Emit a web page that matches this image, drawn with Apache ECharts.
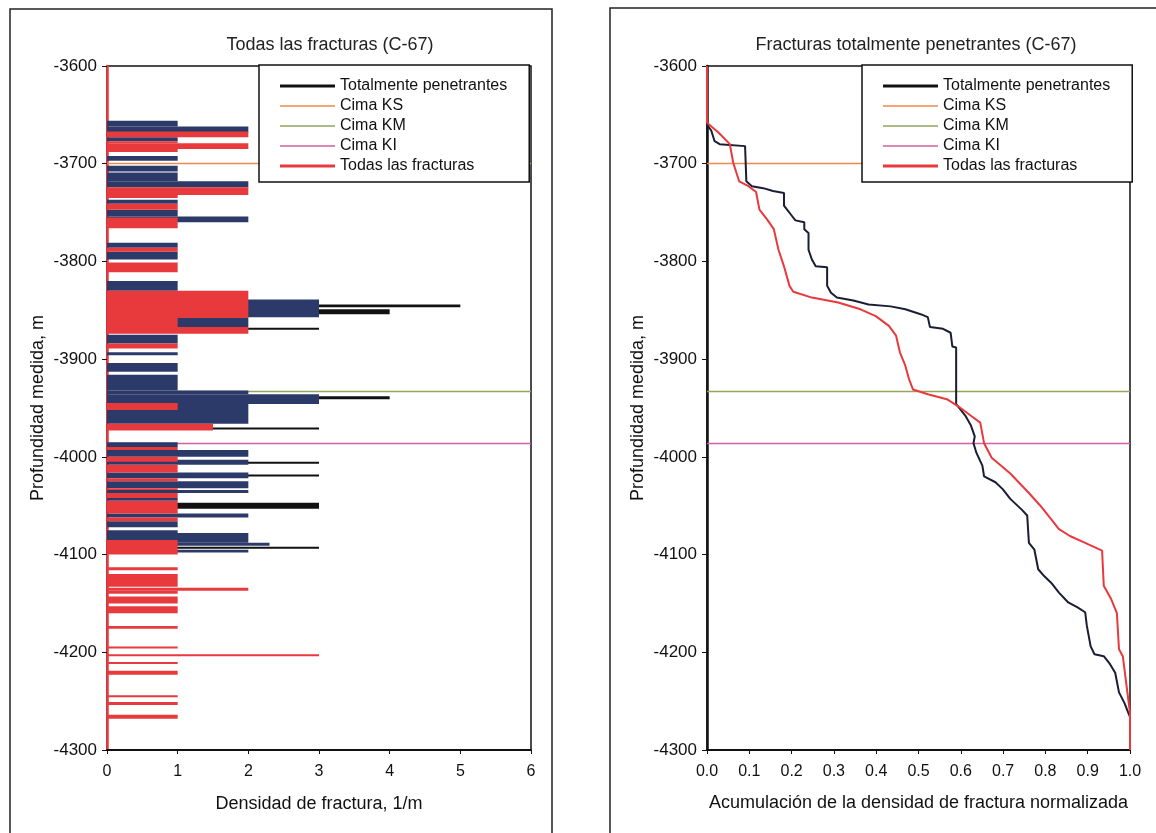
<!DOCTYPE html>
<html>
<head>
<meta charset="utf-8">
<title>Densidad de fractura C-67</title>
<script src="https://cdn.jsdelivr.net/npm/echarts@6/dist/echarts.min.js"></script>
<style>
  html, body { margin: 0; background: #fff; }
  #chart { width: 1156px; height: 833px; }
</style>
</head>
<body>
<div id="chart"></div>
<script>
// profundidad (m) de los ejes
const depthMax = -3600;
const depthMin = -4300;
const depthStep = 100;

// cimas de formacion
const cimaKS = -3700;
const cimaKM = -3933;
const cimaKI = -3986;

// densidad de fractura por intervalo: [cima, base, densidad 1/m]
const penBars = [
  [-3656, -3662, 1], [-3662, -3668, 2], [-3673, -3677, 1], [-3692, -3697, 1],
  [-3702, -3708, 1], [-3709, -3718, 1], [-3718, -3724, 2], [-3737, -3741, 1],
  [-3747, -3754, 1], [-3754, -3760, 2], [-3781, -3786, 1], [-3790, -3798, 1],
  [-3820, -3830, 1], [-3844, -3847, 5], [-3849, -3854, 4], [-3839, -3857, 3],
  [-3857, -3867, 2], [-3868, -3870, 3], [-3875, -3884, 1], [-3893, -3896, 1],
  [-3904, -3913, 1], [-3916, -3932, 1], [-3938, -3941, 4], [-3932, -3936, 2],
  [-3936, -3946, 3], [-3946, -3966, 2], [-3970, -3972, 3], [-3985, -3990, 1],
  [-3993, -4000, 2], [-4005, -4007, 3], [-4003, -4008, 2], [-4018, -4020, 3],
  [-4016, -4022, 2], [-4025, -4032, 2], [-4034, -4037, 2], [-4042, -4045, 1],
  [-4047, -4053, 3], [-4058, -4062, 2], [-4066, -4072, 1], [-4075, -4078, 1],
  [-4078, -4088, 2], [-4092, -4094, 3], [-4088, -4091, 2.3], [-4095, -4098, 2]
];
const todasBars = [
  [-3667, -3673, 2], [-3677, -3679, 1], [-3679, -3685, 2], [-3685, -3688, 1],
  [-3724, -3732, 2], [-3732, -3735, 1], [-3741, -3747, 1], [-3755, -3766, 1],
  [-3786, -3790, 1], [-3801, -3811, 1], [-3830, -3858, 2], [-3858, -3867, 1],
  [-3867, -3874, 2], [-3884, -3889, 1], [-3945, -3952, 1], [-3966, -3973, 1.5],
  [-3990, -3993, 1], [-4000, -4005, 1], [-4008, -4016, 1], [-4022, -4025, 1],
  [-4032, -4034, 1], [-4037, -4042, 1], [-4045, -4058, 1], [-4062, -4066, 1],
  [-4085, -4100, 1], [-4113, -4116, 1], [-4120, -4133, 1], [-4134, -4137, 2],
  [-4137, -4140, 1], [-4143, -4150, 1], [-4153, -4160, 1], [-4173, -4176, 1],
  [-4194, -4196, 1], [-4202, -4204, 3], [-4210, -4212, 1], [-4219, -4223, 1],
  [-4244, -4246, 1], [-4251, -4254, 1], [-4264, -4268, 1]
];

// acumulacion normalizada
const penCumDepth = [-3660, -3666, -3677, -3680, -3682, -3718, -3723, -3725, -3728, -3730,
  -3743, -3753, -3758, -3760, -3767, -3771, -3788, -3798, -3805, -3806,
  -3825, -3832, -3837, -3840, -3844, -3846, -3849, -3854, -3857, -3867,
  -3869, -3873, -3887, -3888, -3946, -3951, -3958, -3968, -3979, -3986,
  -3996, -4009, -4020, -4026, -4033, -4043, -4054, -4060, -4088, -4095,
  -4115, -4122, -4129, -4139, -4149, -4154, -4159, -4173, -4194, -4202,
  -4204, -4211, -4221, -4241, -4252, -4262, -4266];
const penCumVal = [0.0, 0.01, 0.018, 0.03, 0.09, 0.093, 0.106, 0.133, 0.156, 0.182,
  0.182, 0.2, 0.209, 0.23, 0.23, 0.24, 0.24, 0.248, 0.257, 0.284,
  0.284, 0.293, 0.307, 0.346, 0.382, 0.434, 0.469, 0.505, 0.522, 0.527,
  0.558, 0.576, 0.580, 0.589, 0.589, 0.598, 0.611, 0.624, 0.633, 0.630,
  0.637, 0.651, 0.655, 0.682, 0.699, 0.717, 0.744, 0.757, 0.761, 0.774,
  0.783, 0.797, 0.814, 0.832, 0.854, 0.876, 0.894, 0.898, 0.907, 0.916,
  0.938, 0.951, 0.965, 0.974, 0.987, 0.996, 1.0];
const todasCumDepth = [-3600, -3658, -3668, -3680, -3699, -3718, -3723, -3729, -3747, -3757,
  -3767, -3788, -3805, -3825, -3831, -3837, -3842, -3849, -3856, -3866,
  -3876, -3893, -3907, -3921, -3931, -3936, -3941, -3948, -3958, -3965,
  -3986, -4001, -4017, -4037, -4050, -4064, -4074, -4081, -4088, -4096,
  -4132, -4146, -4160, -4197, -4204, -4235, -4262, -4300];
const todasCumVal = [0, 0, 0.027, 0.054, 0.062, 0.076, 0.098, 0.116, 0.124, 0.142,
  0.158, 0.169, 0.182, 0.195, 0.204, 0.248, 0.310, 0.363, 0.399, 0.430,
  0.447, 0.456, 0.469, 0.478, 0.487, 0.522, 0.567, 0.593, 0.624, 0.646,
  0.655, 0.673, 0.717, 0.761, 0.788, 0.814, 0.832, 0.858, 0.894, 0.934,
  0.938, 0.956, 0.969, 0.974, 0.983, 0.992, 1.0, 1.0];

const FONT = '"Liberation Sans", Arial, sans-serif';
const RED = '#e8393d';
const NAVY = '#2c3a6a';
const INK = '#111';
const colKS = '#f08a4b';
const colKM = '#93a55c';
const colKI = '#d062a3';

const THICK = 'path://M0,0h0.01v0.01h-0.01z M0,5.5H55V8.5H0z M0,14h0.01v-0.01h-0.01z';
const THIN = 'path://M0,0h0.01v0.01h-0.01z M0,6.3H55V7.7H0z M0,14h0.01v-0.01h-0.01z';

const legendItems = [
  { name: 'Totalmente penetrantes', icon: THICK, itemStyle: { color: INK, borderWidth: 0 } },
  { name: 'Cima KS', icon: THIN, itemStyle: { color: colKS, borderWidth: 0 } },
  { name: 'Cima KM', icon: THIN, itemStyle: { color: colKM, borderWidth: 0 } },
  { name: 'Cima KI', icon: THIN, itemStyle: { color: colKI, borderWidth: 0 } },
  { name: 'Todas las fracturas', icon: THICK, itemStyle: { color: RED, borderWidth: 0 } }
];

function zip(xs, ys) {
  return xs.map((x, i) => [x, ys[i]]);
}

function barRenderer(kind) {
  return function (params, api) {
    const top = api.value(0);
    const base = api.value(1);
    const dens = api.value(2);
    const a = api.coord([0, top]);
    const b = api.coord([dens, base]);
    let fill = kind === 'todas' ? RED : NAVY;
    // lineas delgadas de las penetrantes se ven negras
    if (kind === 'pen' && dens >= 3 && top - base <= 6) fill = INK;
    return {
      type: 'rect',
      shape: { x: a[0], y: a[1], width: b[0] - a[0], height: b[1] - a[1] },
      style: { fill: fill }
    };
  };
}

function cima(name, depth, color, idx) {
  return {
    name: name,
    type: 'line',
    xAxisIndex: idx,
    yAxisIndex: idx,
    data: [],
    z: 1,
    color: color,
    itemStyle: { color: color },
    lineStyle: { color: color, width: 1.3 },
    markLine: {
      silent: true,
      symbol: 'none',
      z: 1,
      label: { show: false },
      lineStyle: { color: color, width: 1.3, type: 'solid' },
      data: [{ yAxis: depth }]
    }
  };
}

function legendAt(left) {
  return {
    left: left,
    top: 65,
    z: 20,
    orient: 'vertical',
    backgroundColor: '#fff',
    borderColor: INK,
    borderWidth: 1.5,
    padding: [13, 22, 8, 21],
    itemWidth: 55,
    itemHeight: 14,
    itemGap: 4,
    selectedMode: false,
    textStyle: { fontSize: 16, color: INK, fontFamily: FONT },
    data: legendItems
  };
}

function depthAxis(idx, lineColor) {
  return {
    type: 'value',
    gridIndex: idx,
    min: depthMin,
    max: depthMax,
    interval: depthStep,
    axisLine: { show: true, onZero: false, lineStyle: { color: lineColor, width: 2.5 } },
    axisTick: { show: true, length: 5, lineStyle: { color: INK } },
    axisLabel: { color: INK, fontSize: 17, margin: 10, fontFamily: FONT, formatter: v => String(v) },
    splitLine: { show: false },
    name: 'Profundidad medida, m',
    nameLocation: 'middle',
    nameGap: 60,
    nameTextStyle: { fontSize: 18, color: INK, fontFamily: FONT }
  };
}

const chart = echarts.init(document.getElementById('chart'));

const option = {
  animation: false,
  backgroundColor: '#fff',
  textStyle: { fontFamily: FONT },
  graphic: [
    { type: 'rect', shape: { x: 10, y: 9, width: 542, height: 840 }, style: { fill: 'none', stroke: '#222', lineWidth: 1.5 }, z: -1 },
    { type: 'rect', shape: { x: 610, y: 8, width: 560, height: 840 }, style: { fill: 'none', stroke: '#222', lineWidth: 1.5 }, z: -1 },
    { type: 'text', x: 330, y: 45, style: { text: 'Todas las fracturas (C-67)', align: 'center', verticalAlign: 'middle', font: '18px ' + FONT, fill: '#222' } },
    { type: 'text', x: 916, y: 45, style: { text: 'Fracturas totalmente penetrantes (C-67)', align: 'center', verticalAlign: 'middle', font: '18px ' + FONT, fill: '#222' } }
  ],
  legend: [legendAt(259), legendAt(862)],
  grid: [
    { left: 107, top: 66, width: 424, height: 684, show: true, borderColor: INK, borderWidth: 1.5, backgroundColor: 'transparent' },
    { left: 707, top: 66, width: 423, height: 684, show: true, borderColor: INK, borderWidth: 1.5, backgroundColor: 'transparent' }
  ],
  xAxis: [
    {
      type: 'value', gridIndex: 0, min: 0, max: 6, interval: 1,
      axisLine: { onZero: false, lineStyle: { color: INK, width: 2 } },
      axisTick: { length: 4, lineStyle: { color: INK } },
      axisLabel: { color: INK, fontSize: 16, margin: 14, fontFamily: FONT },
      splitLine: { show: false },
      name: 'Densidad de fractura, 1/m', nameLocation: 'middle', nameGap: 45,
      nameTextStyle: { fontSize: 18, color: INK, fontFamily: FONT }
    },
    {
      type: 'value', gridIndex: 1, min: 0, max: 1, interval: 0.1,
      axisLine: { onZero: false, lineStyle: { color: INK, width: 2 } },
      axisTick: { length: 4, lineStyle: { color: INK } },
      axisLabel: { color: INK, fontSize: 16, margin: 14, fontFamily: FONT, formatter: v => v.toFixed(1) },
      splitLine: { show: false },
      name: 'Acumulación de la densidad de fractura normalizada', nameLocation: 'middle', nameGap: 44,
      nameTextStyle: { fontSize: 18, color: INK, fontFamily: FONT }
    }
  ],
  yAxis: [depthAxis(0, RED), depthAxis(1, INK)],
  series: [
    {
      name: 'Totalmente penetrantes',
      type: 'custom',
      xAxisIndex: 0, yAxisIndex: 0,
      renderItem: barRenderer('pen'),
      encode: { x: 2, y: [0, 1] },
      data: penBars,
      z: 2
    },
    cima('Cima KS', cimaKS, colKS, 0),
    cima('Cima KM', cimaKM, colKM, 0),
    cima('Cima KI', cimaKI, colKI, 0),
    {
      name: 'Todas las fracturas',
      type: 'custom',
      xAxisIndex: 0, yAxisIndex: 0,
      renderItem: barRenderer('todas'),
      encode: { x: 2, y: [0, 1] },
      data: todasBars,
      z: 3
    },
    {
      name: 'Totalmente penetrantes',
      type: 'line',
      xAxisIndex: 1, yAxisIndex: 1,
      data: zip(penCumVal, penCumDepth),
      showSymbol: false,
      lineStyle: { color: '#1a1d33', width: 2 },
      itemStyle: { color: '#1a1d33' },
      z: 3
    },
    cima('Cima KS', cimaKS, colKS, 1),
    cima('Cima KM', cimaKM, colKM, 1),
    cima('Cima KI', cimaKI, colKI, 1),
    {
      name: 'Todas las fracturas',
      type: 'line',
      xAxisIndex: 1, yAxisIndex: 1,
      data: zip(todasCumVal, todasCumDepth),
      showSymbol: false,
      lineStyle: { color: RED, width: 2 },
      itemStyle: { color: RED },
      z: 4
    }
  ]
};

chart.setOption(option);
window.addEventListener('resize', () => chart.resize());
</script>
</body>
</html>
